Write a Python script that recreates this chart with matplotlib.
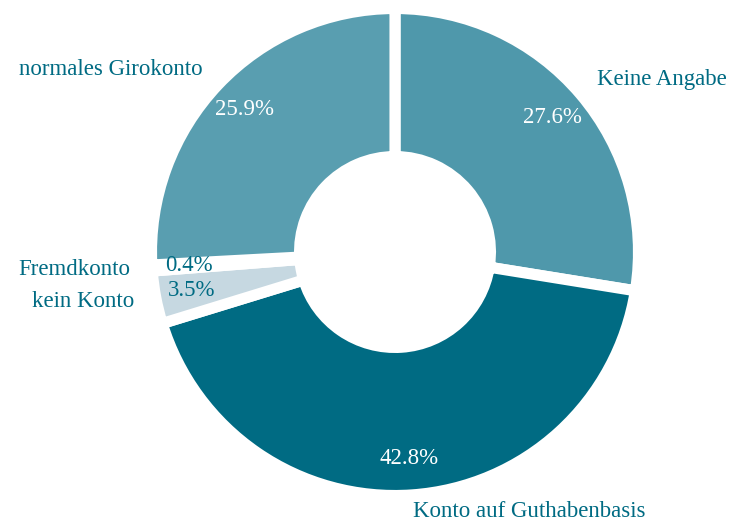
import matplotlib.pyplot as plt

labels = ['Keine Angabe', 'Konto auf Guthabenbasis', 'kein Konto', 'Fremdkonto', 'normales Girokonto']
shares = [27.6, 42.8, 3.5, 0.4, 25.9]
colors = ['#4f98ab', '#006b83', '#c6d8e1', '#ffffff', '#599eb0']
pct_colors = ['white', 'white', '#006b83', '#006b83', 'white']

plt.rcParams['font.family'] = ['Liberation Serif', 'DejaVu Serif']

fig = plt.figure(figsize=(7.31, 5.24), dpi=100)
ax = fig.add_axes([0, 0, 1, 1])

R = 243.5  # pixels per data unit (outer radius)
wedges, texts, autotexts = ax.pie(
    shares, labels=labels, colors=colors, startangle=90, counterclock=False,
    autopct='%.1f%%', pctdistance=0.85, labeldistance=1.09,
    wedgeprops=dict(width=0.608, edgecolor='white', linewidth=8),
    textprops=dict(fontsize=16.5), normalize=True)

for t in texts:
    t.set_color('#006b83')
# keep the bottom label inside the canvas
x, y = texts[1].get_position()
texts[1].set_position((x, y + 5 / R))
# show the raw shares (they sum to 100.2, so pie's own percentages drift)
for t, v, c in zip(autotexts, shares, pct_colors):
    t.set_text(f'{v:.1f}%')
    t.set_color(c)

ax.set_xlim(-395 / R, (731 - 395) / R)
ax.set_ylim(-272 / R, 252 / R)
ax.set_aspect('auto')
ax.set_axis_off()

plt.savefig('out.png', dpi=100)
